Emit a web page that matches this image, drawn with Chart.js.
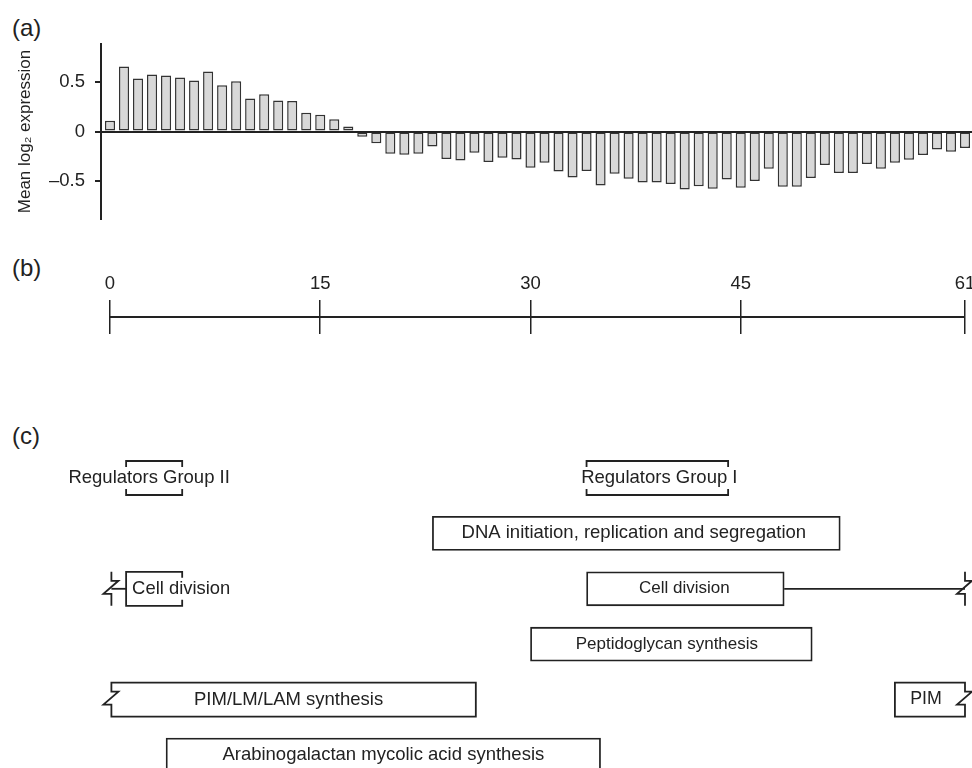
<!DOCTYPE html>
<html>
<head>
<meta charset="utf-8">
<title>Expression timeline</title>
<script src="https://cdn.jsdelivr.net/npm/chart.js@4.4.1/dist/chart.umd.min.js"></script>
<style>
  html, body { margin: 0; padding: 0; background: #fff; width: 972px; height: 768px; overflow: hidden; }
  .wrap { position: absolute; left: 0; width: 1000px; }
  .tag { position: absolute; left: 12px; font: 24px/24px "Liberation Sans", Arial, sans-serif; color: #222; }
</style>
</head>
<body>
<div class="tag" style="top:16px">(a)</div>
<div class="tag" style="top:256px">(b)</div>
<div class="tag" style="top:424px">(c)</div>
<div class="wrap" style="top:0;height:230px"><canvas id="chart-expr"></canvas></div>
<div class="wrap" style="top:250px;height:100px"><canvas id="chart-axis"></canvas></div>
<div class="wrap" style="top:440px;height:360px"><canvas id="chart-blocks"></canvas></div>
<script>
// (a) mean log2 expression, one bar per time point
const timePoints = Array.from({ length: 62 }, (_, i) => i);
const meanExpr = [
  0.11, 0.66, 0.54, 0.58, 0.57, 0.55, 0.52, 0.61, 0.47, 0.51,
  0.335, 0.38, 0.315, 0.31, 0.19, 0.17, 0.125, 0.05, -0.054, -0.12,
  -0.227, -0.237, -0.227, -0.152, -0.28, -0.294, -0.216, -0.31, -0.267, -0.284,
  -0.368, -0.318, -0.406, -0.467, -0.402, -0.548, -0.429, -0.48, -0.518, -0.52,
  -0.534, -0.59, -0.558, -0.582, -0.487, -0.572, -0.504, -0.379, -0.561, -0.561,
  -0.473, -0.341, -0.422, -0.422, -0.331, -0.379, -0.318, -0.287, -0.24, -0.183,
  -0.206, -0.169
];
const exprTicks = [-0.5, 0, 0.5];
const exprTickLabels = ['\u20130.5', '0', '0.5'];

// (b) time axis
const timeTicks = [0, 15, 30, 45, 61];

// (c) functional groups
const blockRows = ['Regulators', 'DNA', 'Cell division', 'Peptidoglycan', 'PIM', 'Arabinogalactan'];
const blockNames = [
  'Regulators Group II', 'Regulators Group I',
  'DNA initiation, replication and segregation',
  'Cell division', 'Cell division',
  'Peptidoglycan synthesis',
  'PIM/LM/LAM synthesis', 'PIM',
  'Arabinogalactan mycolic acid synthesis'
];
const blockRow   = [0, 0, 1, 2, 2, 3, 4, 4, 5];
const blockStart = [1.15, 34.0, 23.0, 1.15, 34.0, 30.0, 0.1, 56.0, 4.0];
const blockEnd   = [5.15, 44.1, 52.1, 5.15, 48.1, 50.1, 26.1, 61.0, 35.0];
const blockTail  = [null, null, null, 0.1, 61, null, null, null, null];

const FONT = '"Liberation Sans", Arial, Helvetica, sans-serif';
const INK = '#222';
Chart.defaults.font.family = FONT;
Chart.defaults.color = INK;

// shared time mapping: 0 -> x 110, 61 -> x 965
const T_MIN = -0.642, T_MAX = 61.5;
const PAD_L = 101, PAD_R = 28;
const quiet = { legend: { display: false }, tooltip: { enabled: false } };

// look of each block (drawing only)
const blockShape = ['bracket', 'bracket', 'box', 'openRight', 'box', 'box', 'breakLeft', 'breakRight', 'box'];
const labelSize  = [18.5, 18.5, 18.5, 18.4, 17, 17, 18.5, 17.8, 18.5];
const labelNudge = [-5, 2, -2.5, 0, -1, -4.5, -5, -4, 0];

new Chart(document.getElementById('chart-expr'), {
  type: 'bar',
  data: {
    datasets: [{
      data: timePoints.map((t, i) => ({ x: t, y: meanExpr[i] })),
      backgroundColor: '#d8d8d8',
      borderColor: '#333',
      borderWidth: 1.5,
      borderSkipped: false,
      barPercentage: 1,
      categoryPercentage: 0.72
    }]
  },
  options: {
    responsive: true, maintainAspectRatio: false, animation: false,
    layout: { padding: { left: 0, right: PAD_R, top: 44, bottom: 11 } },
    plugins: quiet,
    scales: {
      x: { type: 'linear', min: T_MIN, max: T_MAX, offset: false, grid: { offset: false }, display: false },
      y: {
        min: -0.89, max: 0.89,
        afterBuildTicks: s => { s.ticks = exprTicks.map(v => ({ value: v })); },
        afterFit: s => { s.width = PAD_L; s.paddingTop = 0; s.paddingBottom = 0; },
        ticks: {
          callback: v => exprTickLabels[exprTicks.indexOf(v)],
          font: { size: 18.5 }, color: INK, padding: 10
        },
        grid: {
          drawOnChartArea: true,
          color: c => (c.tick && c.tick.value === 0) ? INK : 'rgba(0,0,0,0)',
          lineWidth: 2, tickLength: 6, tickColor: INK, tickWidth: 2
        },
        border: { display: true, color: INK, width: 2 },
        title: {
          display: true, text: 'Mean log\u2082 expression',
          font: { size: 17 }, color: INK, padding: { top: 15, bottom: 0 }
        }
      }
    }
  }
});

new Chart(document.getElementById('chart-axis'), {
  type: 'scatter',
  data: {
    datasets: [{
      data: [{ x: timeTicks[0], y: 0 }, { x: timeTicks[timeTicks.length - 1], y: 0 }],
      showLine: true, borderColor: INK, borderWidth: 2, pointRadius: 0
    }]
  },
  options: {
    responsive: true, maintainAspectRatio: false, animation: false,
    layout: { padding: { left: PAD_L, right: PAD_R, top: 0, bottom: 16 } },
    plugins: quiet,
    scales: {
      x: {
        type: 'linear', position: 'top', min: T_MIN, max: T_MAX,
        afterBuildTicks: s => { s.ticks = timeTicks.map(v => ({ value: v })); },
        afterFit: s => { s.height = 50; },
        ticks: { callback: v => String(v), font: { size: 18.5 }, color: INK, padding: 5, maxRotation: 0, autoSkip: false },
        grid: { drawOnChartArea: true, drawTicks: false, color: INK, lineWidth: 1.5 },
        border: { display: false }
      },
      y: { display: false, min: -1, max: 1 }
    }
  }
});

// zig-zag break mark, continues a path from (x0, top) down to (x0, bottom)
function zig(ctx, x0, ym, bottom) {
  ctx.lineTo(x0, ym - 8);
  ctx.lineTo(x0 + 7, ym - 8);
  ctx.lineTo(x0 - 8, ym + 5);
  ctx.lineTo(x0, ym + 5);
  ctx.lineTo(x0, bottom);
}

const blockDecor = {
  id: 'blockDecor',
  afterDatasetsDraw(chart) {
    const ctx = chart.ctx;
    const xs = chart.scales.x;
    const meta = chart.getDatasetMeta(0);
    ctx.save();
    ctx.strokeStyle = INK;
    ctx.lineWidth = 1.8;
    meta.data.forEach((bar, i) => {
      const { x, y, base, height } = bar.getProps(['x', 'y', 'base', 'height'], true);
      const l = Math.min(x, base), r = Math.max(x, base);
      const t = y - height / 2, b = y + height / 2;
      const k = 6;
      const shape = blockShape[i];

      // connector line out to a break mark
      if (blockTail[i] !== null) {
        const xt = xs.getPixelForValue(blockTail[i]);
        ctx.beginPath();
        ctx.moveTo(xt, y); ctx.lineTo(xt < l ? l : r, y);
        ctx.stroke();
        ctx.beginPath();
        ctx.moveTo(xt, t); zig(ctx, xt, y, b);
        ctx.stroke();
      }

      ctx.beginPath();
      if (shape === 'bracket') {
        ctx.moveTo(l, t + k); ctx.lineTo(l, t); ctx.lineTo(r, t); ctx.lineTo(r, t + k);
        ctx.moveTo(l, b - k); ctx.lineTo(l, b); ctx.lineTo(r, b); ctx.lineTo(r, b - k);
        ctx.stroke();
      } else if (shape === 'openRight') {
        ctx.moveTo(r, t + k); ctx.lineTo(r, t); ctx.lineTo(l, t); ctx.lineTo(l, b);
        ctx.lineTo(r, b); ctx.lineTo(r, b - k);
        ctx.stroke();
      } else if (shape === 'breakLeft') {
        ctx.moveTo(l, t); zig(ctx, l, y, b); ctx.lineTo(r, b); ctx.lineTo(r, t); ctx.closePath();
        ctx.fillStyle = '#fff'; ctx.fill(); ctx.stroke();
      } else if (shape === 'breakRight') {
        ctx.moveTo(l, t); ctx.lineTo(r, t); zig(ctx, r, y, b); ctx.lineTo(l, b); ctx.closePath();
        ctx.fillStyle = '#fff'; ctx.fill(); ctx.stroke();
      }

      ctx.fillStyle = INK;
      ctx.font = labelSize[i] + 'px ' + FONT;
      ctx.textBaseline = 'middle';
      if (shape === 'openRight') {
        ctx.textAlign = 'left';
        ctx.fillText(blockNames[i], l + 6, y);
      } else {
        ctx.textAlign = 'center';
        ctx.fillText(blockNames[i], (l + r) / 2 + labelNudge[i], y);
      }
    });
    ctx.restore();
  }
};

new Chart(document.getElementById('chart-blocks'), {
  type: 'bar',
  data: {
    labels: blockRows,
    datasets: [{
      data: blockNames.map((n, i) => ({ x: [blockStart[i], blockEnd[i]], y: blockRows[blockRow[i]] })),
      backgroundColor: c => (blockShape[c.dataIndex] === 'box') ? '#fff' : 'rgba(0,0,0,0)',
      borderWidth: c => (blockShape[c.dataIndex] === 'box') ? 1.8 : 0,
      borderColor: INK,
      borderSkipped: false,
      barThickness: 34,
      grouped: false
    }]
  },
  options: {
    indexAxis: 'y',
    responsive: true, maintainAspectRatio: false, animation: false,
    layout: { padding: { left: PAD_L, right: PAD_R, top: 10.3, bottom: 17.3 } },
    plugins: quiet,
    scales: {
      x: { type: 'linear', min: T_MIN, max: T_MAX, display: false },
      y: { type: 'category', display: false }
    }
  },
  plugins: [blockDecor]
});
</script>
</body>
</html>
